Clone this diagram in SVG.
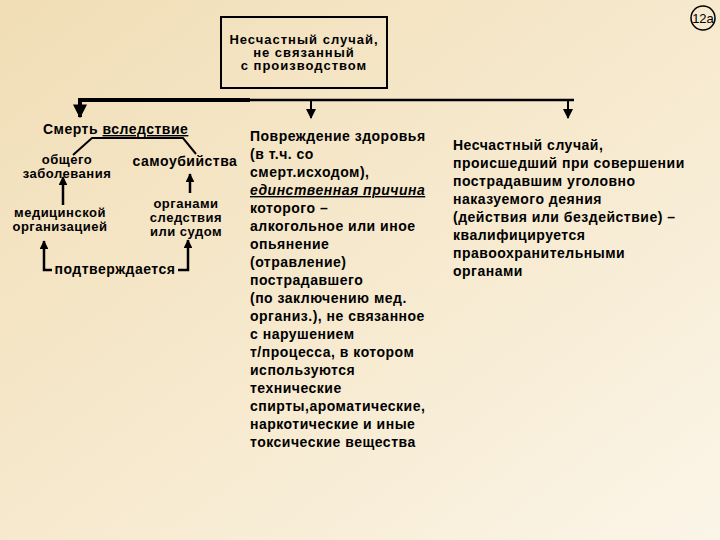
<svg xmlns="http://www.w3.org/2000/svg" width="720" height="540" viewBox="0 0 720 540">
<defs>
<linearGradient id="bg" x1="0" y1="0" x2="1" y2="1"><stop offset="0" stop-color="#f1deb6"/><stop offset="0.6" stop-color="#f7ebd2"/><stop offset="1" stop-color="#fbf5e8"/></linearGradient>
<marker id="ah" viewBox="0 0 10 10" refX="9" refY="5" markerWidth="3.5" markerHeight="3.5" orient="auto"><path d="M0,0L10,5L0,10z" fill="#000"/></marker>
<marker id="ahs" viewBox="0 0 10 10" refX="9" refY="5" markerWidth="5" markerHeight="5" orient="auto"><path d="M0,0L10,5L0,10z" fill="#000"/></marker>
</defs>
<style>
text{font-family:"Liberation Sans",Arial,sans-serif;font-weight:bold;font-size:14px;letter-spacing:0.5px;fill:#000}
.c{text-anchor:middle}
.s{font-size:13px}
.b{font-size:13px;letter-spacing:1px}
.l{stroke:#000;fill:none}
</style>
<rect width="720" height="540" fill="url(#bg)"/>
<g id="badge"><circle cx="703" cy="18" r="12" fill="none" stroke="#000" stroke-width="1.5"/><text x="703" y="23" class="c" style="font-weight:normal;font-size:13px;letter-spacing:0">12а</text></g>
<g id="root"><rect x="221" y="17" width="166" height="71" fill="none" stroke="#000" stroke-width="2"/>
<text x="304" y="44" class="c b">Несчастный случай,</text><text x="304" y="57" class="c b">не связанный</text><text x="304" y="70" class="c b">с производством</text></g>
<g id="connectors">
<path class="l" stroke-width="4" d="M78,100H250"/>
<path class="l" stroke-width="2.5" d="M250,100H574"/>
<path class="l" stroke-width="4" d="M80,100V117" marker-end="url(#ah)"/>
<path class="l" stroke-width="2" d="M311,100V118" marker-end="url(#ahs)"/>
<path class="l" stroke-width="2" d="M568,100V118" marker-end="url(#ahs)"/>
<path class="l" stroke-width="2" d="M73,155L92,138H183L196,154"/>
<path class="l" stroke-width="2.5" d="M63,205V177" marker-end="url(#ah)"/>
<path class="l" stroke-width="2.5" d="M190,193V174" marker-end="url(#ah)"/>
<path class="l" stroke-width="2.5" d="M52,270H44V241" marker-end="url(#ah)"/>
<path class="l" stroke-width="2.5" d="M178,270H188V240" marker-end="url(#ah)"/>
</g>
<g id="death"><text x="43" y="134">Смерть <tspan text-decoration="underline">вследствие</tspan></text></g>
<g id="illness"><text x="67" y="164" class="c s">общего</text><text x="67" y="178" class="c s">заболевания</text></g>
<g id="suicide"><text x="185" y="166" class="c">самоубийства</text></g>
<g id="med"><text x="60" y="217" class="c s">медицинской</text><text x="60" y="231" class="c s">организацией</text></g>
<g id="organs"><text x="186" y="208" class="c s">органами</text><text x="186" y="222" class="c s">следствия</text><text x="186" y="236" class="c s">или судом</text></g>
<g id="confirm"><text x="115" y="274" class="c">подтверждается</text></g>
<g id="harm">
<text x="250" y="141">Повреждение здоровья</text>
<text x="250" y="159">(в т.ч. со</text>
<text x="250" y="177">смерт.исходом),</text>
<text x="250" y="195" font-style="italic" text-decoration="underline">единственная причина</text>
<text x="250" y="213">которого –</text>
<text x="250" y="231">алкогольное или иное</text>
<text x="250" y="249">опьянение</text>
<text x="250" y="267">(отравление)</text>
<text x="250" y="285">пострадавшего</text>
<text x="250" y="303">(по заключению мед.</text>
<text x="250" y="321">организ.), не связанное</text>
<text x="250" y="339">с нарушением</text>
<text x="250" y="357">т/процесса, в котором</text>
<text x="250" y="375">используются</text>
<text x="250" y="393">технические</text>
<text x="250" y="411">спирты,ароматические,</text>
<text x="250" y="429">наркотические и иные</text>
<text x="250" y="447">токсические вещества</text>
</g>
<g id="crime" style="letter-spacing:0.8px">
<text x="453" y="150">Несчастный случай,</text>
<text x="453" y="168">происшедший при совершении</text>
<text x="453" y="186">пострадавшим уголовно</text>
<text x="453" y="204">наказуемого деяния</text>
<text x="453" y="222">(действия или бездействие) –</text>
<text x="453" y="240">квалифицируется</text>
<text x="453" y="258">правоохранительными</text>
<text x="453" y="276">органами</text>
</g>
</svg>
